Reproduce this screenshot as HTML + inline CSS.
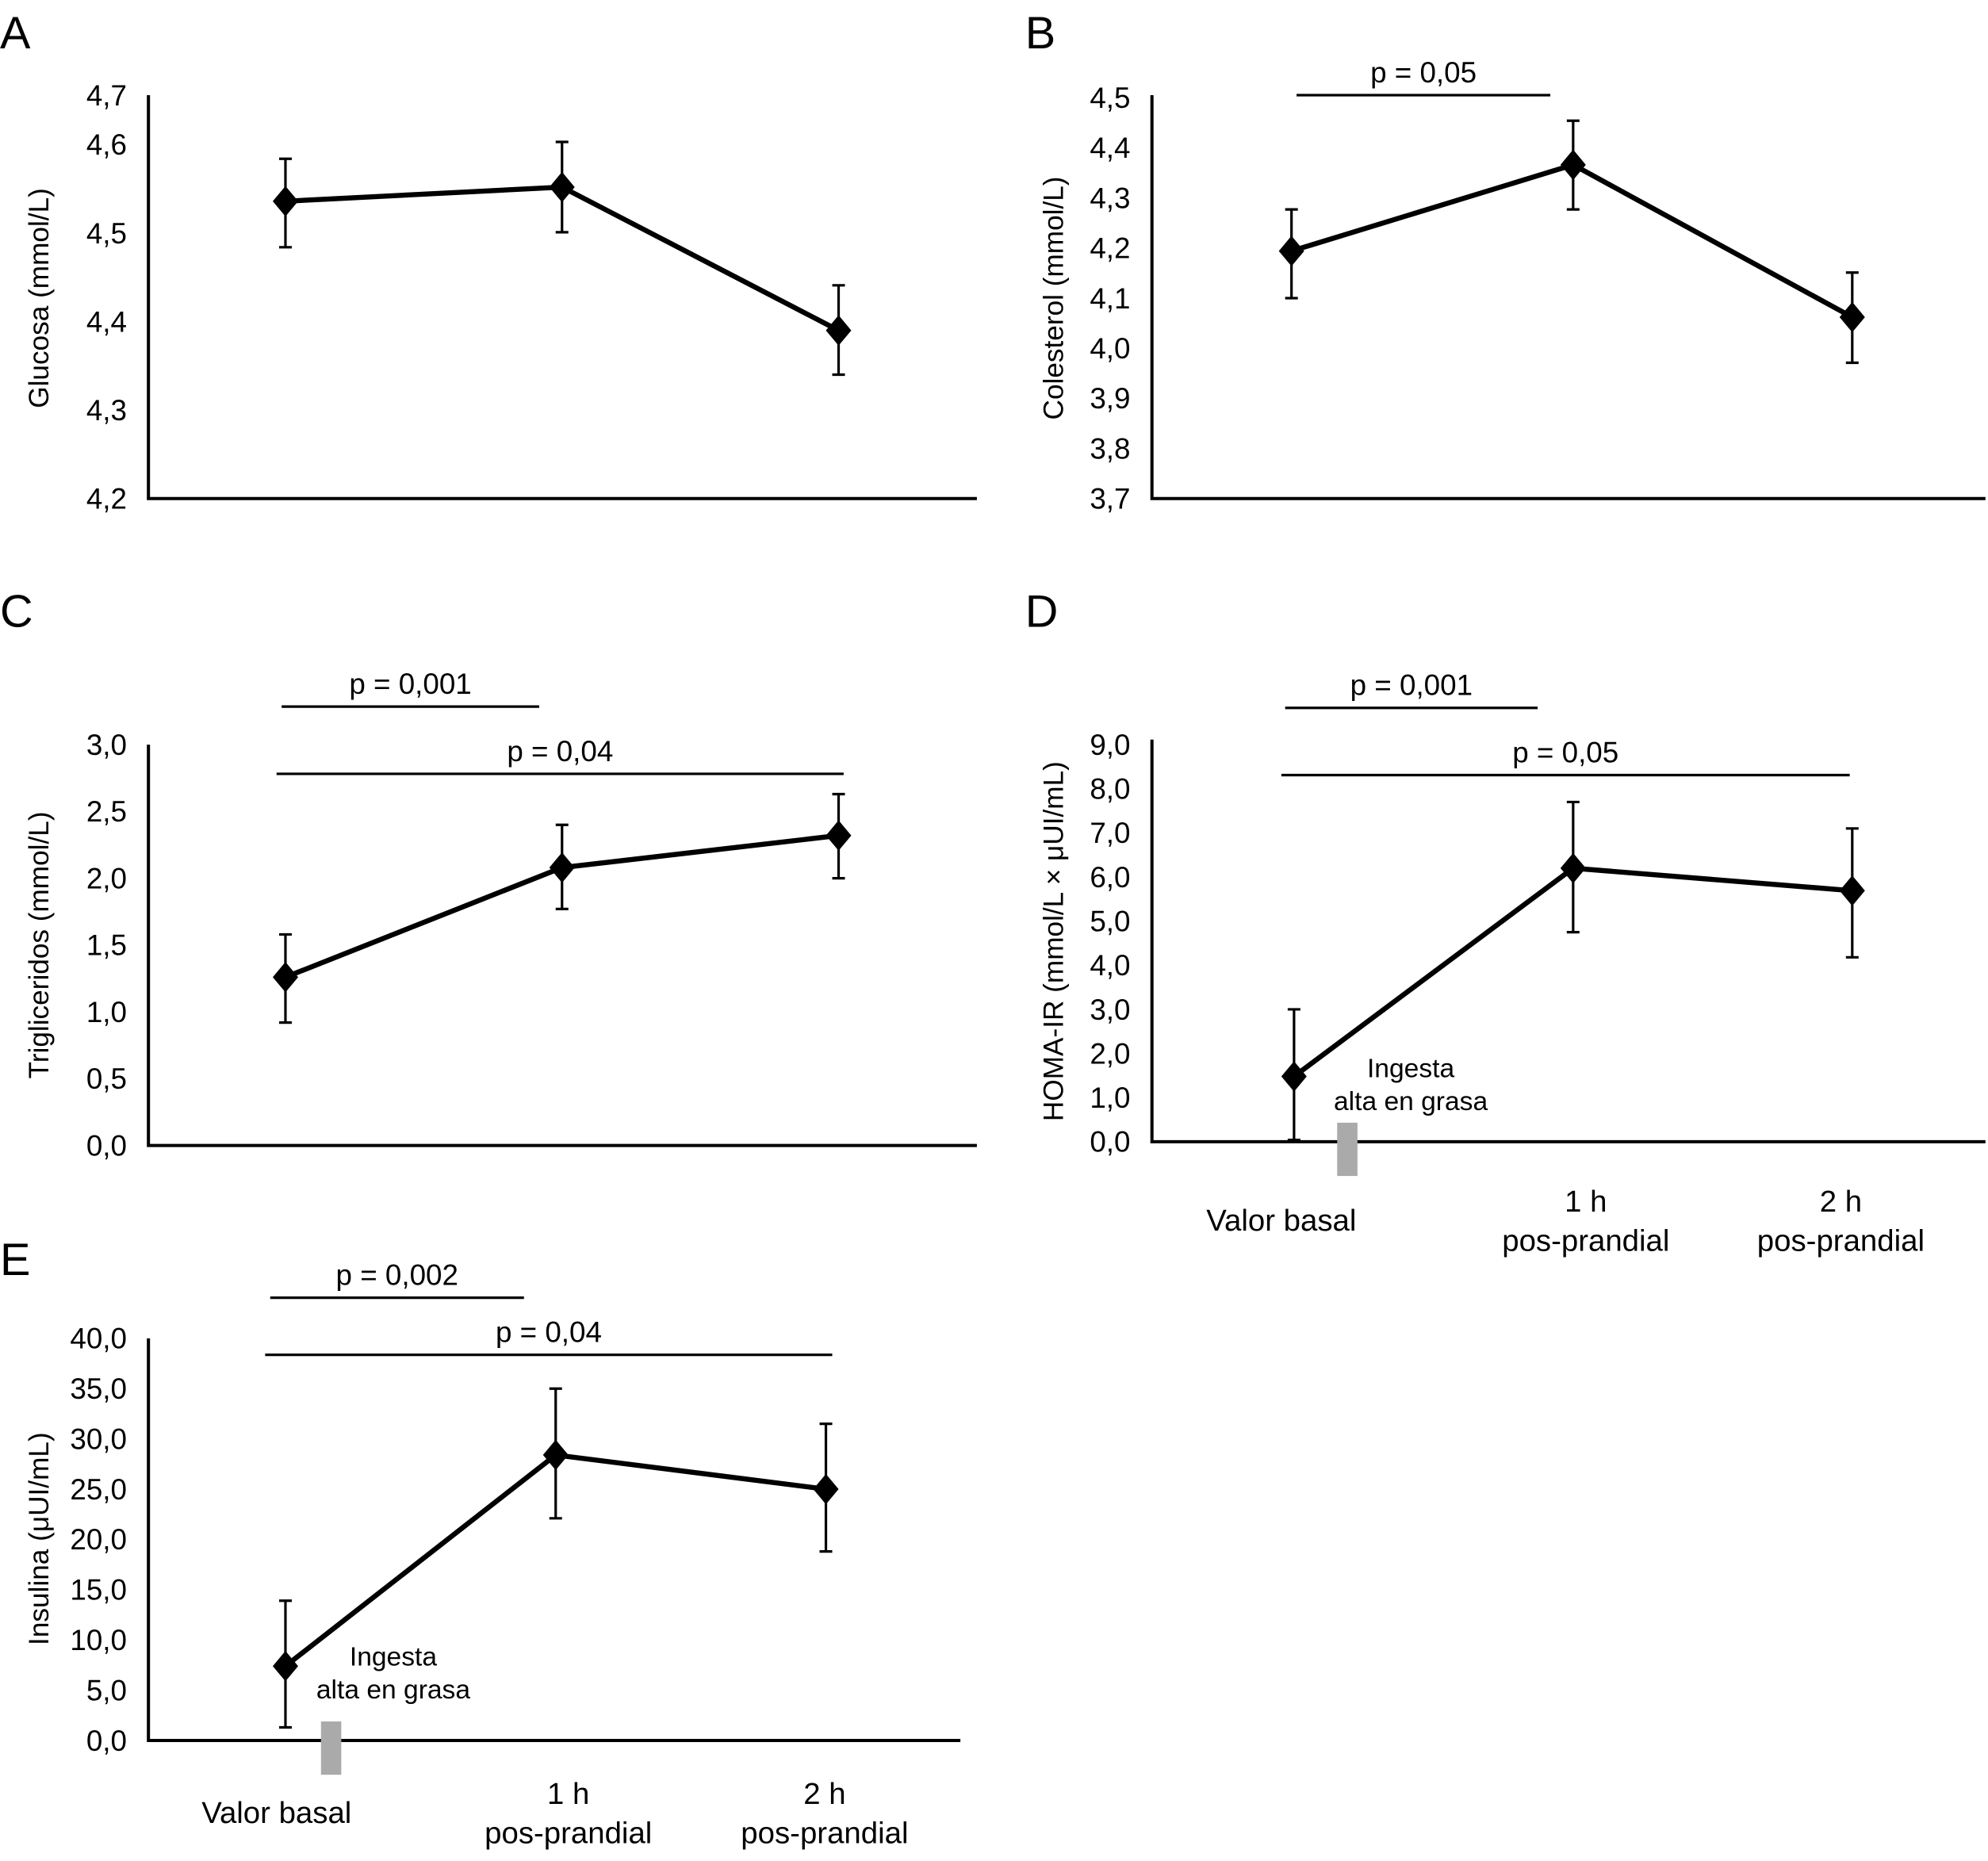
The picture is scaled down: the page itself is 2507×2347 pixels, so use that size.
<!DOCTYPE html>
<html><head><meta charset="utf-8"><style>
html,body{margin:0;padding:0;background:#fff}
svg{display:block}
text{font-family:"Liberation Sans Narrow","Liberation Sans",sans-serif;fill:#000}
</style></head><body>
<svg id="fig" width="2507" height="2347" viewBox="0 0 1567 1467" xmlns="http://www.w3.org/2000/svg"></svg>
<script>
// Panel A - Glucosa
const aTicks = [4.2, 4.3, 4.4, 4.5, 4.6];
const aTickLabels = ["4,2", "4,3", "4,4", "4,5", "4,6"];
const aMeans = [4.536, 4.552, 4.39];
const aUpper = [4.584, 4.603, 4.441];
const aLower = [4.484, 4.501, 4.340];
// Panel B - Colesterol
const bTicks = [3.7, 3.8, 3.9, 4.0, 4.1, 4.2, 4.3, 4.4, 4.5];
const bTickLabels = ["3,7", "3,8", "3,9", "4,0", "4,1", "4,2", "4,3", "4,4", "4,5"];
const bMeans = [4.194, 4.366, 4.062];
const bUpper = [4.277, 4.454, 4.151];
const bLower = [4.100, 4.277, 3.971];
// Panel C - Trigliceridos
const cTicks = [0, 0.5, 1, 1.5, 2, 2.5, 3];
const cTickLabels = ["0,0", "0,5", "1,0", "1,5", "2,0", "2,5", "3,0"];
const cMeans = [1.26, 2.08, 2.32];
const cUpper = [1.58, 2.40, 2.63];
const cLower = [0.92, 1.77, 2.0];
// Panel D - HOMA-IR
const dTicks = [0, 1, 2, 3, 4, 5, 6, 7, 8, 9];
const dTickLabels = ["0,0", "1,0", "2,0", "3,0", "4,0", "5,0", "6,0", "7,0", "8,0", "9,0"];
const dMeans = [1.48, 6.2, 5.69];
const dUpper = [3.0, 7.7, 7.1];
const dLower = [0.04, 4.75, 4.18];
// Panel E - Insulina
const eTicks = [0, 5, 10, 15, 20, 25, 30, 35, 40];
const eTickLabels = ["0,0", "5,0", "10,0", "15,0", "20,0", "25,0", "30,0", "35,0", "40,0"];
const eMeans = [7.4, 28.4, 25.0];
const eUpper = [13.9, 35.0, 31.5];
const eLower = [1.3, 22.1, 18.8];
const timeLabels = ["Valor basal", "1 h|pos-prandial", "2 h|pos-prandial"];

const NS = "http://www.w3.org/2000/svg";
const svg = document.getElementById("fig");
function mk(tag, attrs, parent, txt) {
  const e = document.createElementNS(NS, tag);
  for (const k in attrs) e.setAttribute(k, attrs[k]);
  if (txt !== undefined) e.textContent = txt;
  (parent || svg).appendChild(e);
  return e;
}

function panel(o) {
  const g = mk("g", {});
  
  
  const y = v => o.y0 + (v - o.v0) / (o.v1 - o.v0) * (o.y1 - o.y0);
  const lt = mk("text", {x: o.letterX, y: o.letterY, "font-size": 36, "font-family": "Liberation Sans, sans-serif"}, g, o.letter);
  
  
  const ax = mk("path", {d: `M${o.ax} ${o.top} V${o.y0} H${o.axEnd}`, stroke: "#000", "stroke-width": 2.5, fill: "none"}, g);
  
  
  o.ticks.forEach((t, i) => {
    const ty = o.tickY ? o.tickY[i] : y(t);
    const tl = mk("text", {x: o.ax - 17, y: ty + 8, "font-size": 23, "text-anchor": "end"}, g, o.labels[i]);
    
    
  });
  if (o.extraTick) {
    const tl = mk("text", {x: o.ax - 17, y: o.top + 8, "font-size": 23, "text-anchor": "end"}, g, o.extraTick);
    
    
  }
  const yt = mk("text", {x: 0, y: 0, "font-size": 22, "text-anchor": "middle", "font-family": "Liberation Sans, sans-serif", transform: `translate(${o.titleX},${o.titleY}) rotate(-90)`}, g, o.title);
  
  
  (o.pbars || []).forEach(p => {
    const l = mk("line", {x1: p[0], x2: p[1], y1: p[2], y2: p[2], stroke: "#000", "stroke-width": 2}, g);
    
    
    const t = mk("text", {x: (p[0] + p[1]) / 2, y: p[2] - 10, "font-size": 23, "text-anchor": "middle"}, g, p[3]);
    
    
  });
  const pts = o.means.map((m, i) => [o.xs[i], y(m)]);
  const line = mk("polyline", {points: pts.map(p => p.join(",")).join(" "), stroke: "#000", "stroke-width": 4, fill: "none"}, g);
  
  
  o.means.forEach((m, i) => {
    const x = o.xs[i], yu = y(o.upper[i]), yl = y(o.lower[i]), ym = y(m);
    const eb = mk("path", {d: `M${x} ${yu} V${yl} M${x - 5} ${yu} H${x + 5} M${x - 5} ${yl} H${x + 5}`, stroke: "#000", "stroke-width": 2, fill: "none"}, g);
    
    
    const d = mk("polygon", {points: `${x},${ym - 12} ${x + 10},${ym} ${x},${ym + 12} ${x - 10},${ym}`, fill: "#000"}, g);
    
    
  });
  if (o.meal) {
    const r = mk("rect", {x: o.meal[0], y: o.y0 - 15, width: 16, height: 42, fill: "#aaa"}, g);
    
    
    const t1 = mk("text", {x: o.meal[1], y: o.meal[2], "font-size": 21, "text-anchor": "middle"}, g, "Ingesta");
    
    
    const t2 = mk("text", {x: o.meal[1], y: o.meal[2] + 26, "font-size": 21, "text-anchor": "middle"}, g, "alta en grasa");
    
    
  }
  if (o.xlab) {
    timeLabels.forEach((s, i) => {
      const parts = s.split("|");
      const cx = o.xlab.xs[i];
      if (parts.length === 1) {
        const t = mk("text", {x: cx, y: o.xlab.y + 15, "font-size": 24, "text-anchor": "middle"}, g, parts[0]);
        
        
      } else {
        const t = mk("text", {x: cx, y: o.xlab.y, "font-size": 24, "text-anchor": "middle"}, g, parts[0]);
        
        
        const t2 = mk("text", {x: cx, y: o.xlab.y + 31, "font-size": 24, "text-anchor": "middle"}, g, parts[1]);
        
        
      }
    });
  }
}

panel({name: "panel-a-glucosa", letter: "A", letterX: 0, letterY: 38, ax: 117, top: 75, axEnd: 770, y0: 393, y1: 114, v0: 4.2, v1: 4.6,
  ticks: aTicks, labels: aTickLabels, extraTick: "4,7", title: "Glucosa (mmol/L)", titleX: 38, titleY: 235,
  means: aMeans, upper: aUpper, lower: aLower, xs: [225, 443, 661]});
panel({name: "panel-b-colesterol", letter: "B", letterX: 808, letterY: 38, ax: 908, top: 75, axEnd: 1565, y0: 393, y1: 77, v0: 3.7, v1: 4.5,
  ticks: bTicks, labels: bTickLabels, title: "Colesterol (mmol/L)", titleX: 838, titleY: 235,
  means: bMeans, upper: bUpper, lower: bLower, xs: [1018, 1240, 1460], pbars: [[1022, 1222, 75, "p = 0,05"]]});
panel({name: "panel-c-trigliceridos", letter: "C", letterX: 0, letterY: 494, ax: 117, top: 587, axEnd: 770, y0: 903, y1: 587, v0: 0, v1: 3,
  ticks: cTicks, labels: cTickLabels, title: "Trigliceridos (mmol/L)", titleX: 38, titleY: 745,
  means: cMeans, upper: cUpper, lower: cLower, xs: [225, 443, 661], pbars: [[222, 425, 557, "p = 0,001"], [218, 665, 610, "p = 0,04"]]});
panel({name: "panel-d-homa-ir", letter: "D", letterX: 808, letterY: 494, ax: 908, top: 583, axEnd: 1565, y0: 900, y1: 587, v0: 0, v1: 9,
  ticks: dTicks, labels: dTickLabels, title: "HOMA-IR (mmol/L × μUI/mL)", titleX: 838, titleY: 742,
  means: dMeans, upper: dUpper, lower: dLower, xs: [1020, 1240, 1460], pbars: [[1013, 1212, 558, "p = 0,001"], [1010, 1458, 611, "p = 0,05"]],
  meal: [1054, 1112, 849], xlab: {xs: [1010, 1250, 1451], y: 955}});
panel({name: "panel-e-insulina", letter: "E", letterX: 0, letterY: 1005, ax: 117, top: 1055, axEnd: 757, y0: 1372, y1: 1055, v0: 0, v1: 40,
  ticks: eTicks, labels: eTickLabels, title: "Insulina (μUI/mL)", titleX: 38, titleY: 1213,
  means: eMeans, upper: eUpper, lower: eLower, xs: [225, 438, 651], pbars: [[213, 413, 1023, "p = 0,002"], [209, 656, 1068, "p = 0,04"]],
  meal: [253, 310, 1313], xlab: {xs: [218, 448, 650], y: 1422}});
</script>
</body></html>
